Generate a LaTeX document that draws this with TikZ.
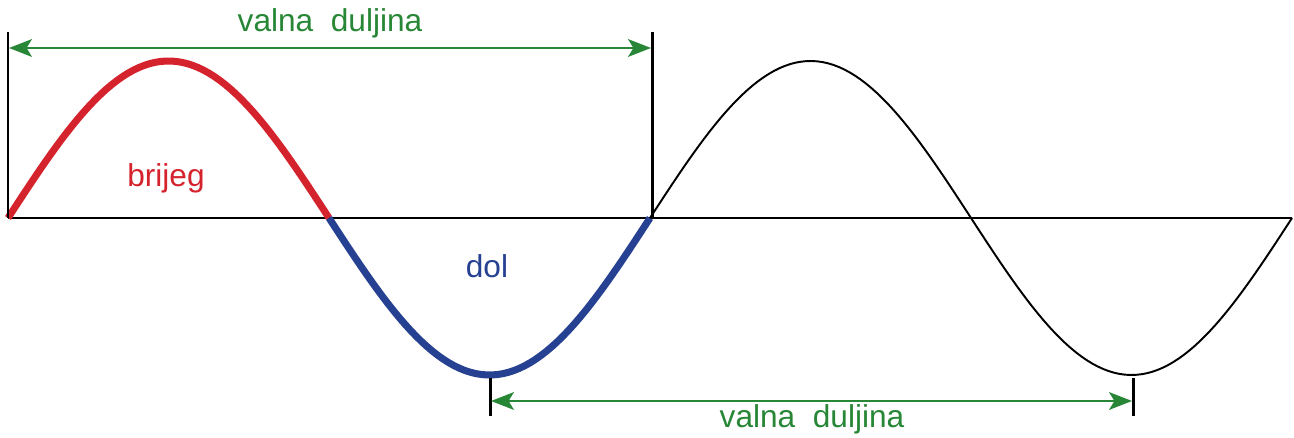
\documentclass[tikz,border=0pt]{standalone}
\usepackage{fontspec}
\setmainfont{Liberation Sans}
\usetikzlibrary{arrows.meta,positioning}
\definecolor{crest}{RGB}{213,35,45}
\definecolor{trough}{RGB}{38,65,145}
\definecolor{span}{RGB}{40,135,55}
\tikzset{
  marker/.style={line width=1.7pt,black},
  spanarrow/.style={line width=1.6pt,span,arrows={Stealth[length=13pt,width=10pt,inset=3pt]-Stealth[length=13pt,width=10pt,inset=3pt]}},
  wavetext/.style={font=\fontsize{18}{20}\selectfont,inner sep=0pt}
}
\begin{document}
\begin{tikzpicture}[x=0.02cm,y=-0.02cm]
  \useasboundingbox (0,0) rectangle (1294,438);
  % axis
  \coordinate (axL) at (8,218);
  \coordinate (axR) at (1292,218);
  \draw[line width=1.1pt] (axL) -- (axR);
  % wave: crest, trough, then the rest
  \draw[crest,line width=4pt] plot[domain=8:329,samples=60] (\x,{218-157*sin((\x-8)/642*360)});
  \draw[trough,line width=4pt] plot[domain=329:650,samples=60] (\x,{218-157*sin((\x-8)/642*360)});
  \draw[line width=1.1pt] plot[domain=650:1292,samples=120] (\x,{218-157*sin((\x-8)/642*360)});
  % top span markers
  \coordinate (t1) at (8,32);  \coordinate (t1b) at (8,218);
  \coordinate (t2) at (652,32); \coordinate (t2b) at (652,218);
  \draw[marker] (t1) -- (t1b);
  \draw[marker] (t2) -- (t2b);
  \coordinate (ta) at (9,48); \coordinate (tb) at (651,48);
  \draw[spanarrow] (ta) -- (tb);
  \node[wavetext,span] (toplabel) at (330,23) {valna\ \ duljina};
  % bottom span markers
  \coordinate (b1) at (490,378); \coordinate (b1b) at (490,416);
  \coordinate (b2) at (1133,378); \coordinate (b2b) at (1133,416);
  \draw[marker] (b1) -- (b1b);
  \draw[marker] (b2) -- (b2b);
  \coordinate (ba) at (491,401); \coordinate (bb) at (1132,401);
  \draw[spanarrow] (ba) -- (bb);
  \node[wavetext,span] (botlabel) at (812,419) {valna\ \ duljina};
  % labels
  \node[wavetext,crest] (crestlabel) at (166,178) {brijeg};
  \node[wavetext,trough] (troughlabel) at (487,266) {dol};
\end{tikzpicture}
\end{document}
